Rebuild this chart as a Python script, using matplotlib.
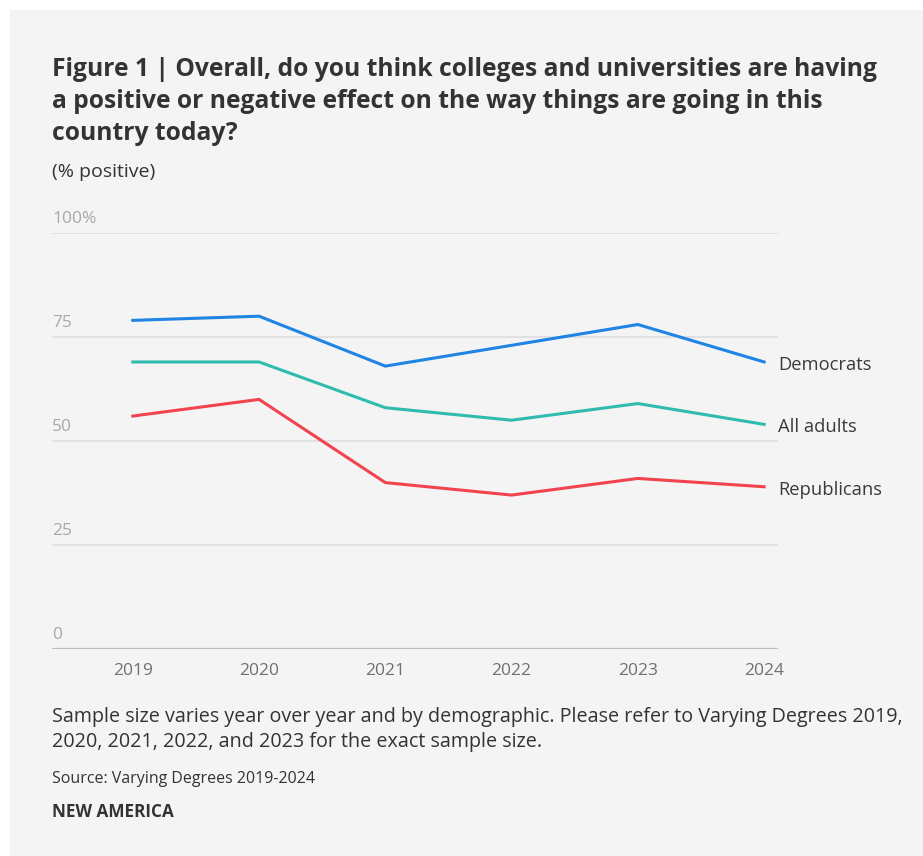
import matplotlib.pyplot as plt
from matplotlib.patches import Rectangle
from matplotlib.transforms import blended_transform_factory

plt.rcParams['font.family'] = ['Open Sans', 'DejaVu Sans']

years = [2019, 2020, 2021, 2022, 2023, 2024]
democrats = [79, 80, 68, 73, 78, 69]
all_adults = [69, 69, 58, 55, 59, 54]
republicans = [56, 60, 40, 37, 41, 39]
y_ticks = [0, 25, 50, 75, 100]
y_tick_labels = ['0', '25', '50', '75', '100%']

series = [
    ('Democrats', democrats, '#1f84e3'),
    ('All adults', all_adults, '#2fbcae'),
    ('Republicans', republicans, '#f2434f'),
]

W, H = 923, 856
fig = plt.figure(figsize=(W / 100, H / 100), dpi=100)
fig.patch.set_facecolor('white')
fig.patches.append(Rectangle((10 / W, 0), 1, 1 - 10 / H, transform=fig.transFigure,
                             facecolor='#f4f4f4', edgecolor='none', zorder=-1))

ax = fig.add_axes([52 / W, 1 - 649 / H, (778 - 52) / W, (649 - 233) / H])
ax.set_facecolor('none')
ax.set_xlim(2018.36, 2024.11)
ax.set_ylim(0, 100)
for s in ax.spines.values():
    s.set_visible(False)
ax.set_yticks([])
ax.set_xticks(years)
ax.set_xticklabels([str(y) for y in years], fontsize=12.5, color='#707070')
ax.tick_params(axis='x', length=0, pad=10)

# gridlines with labels sitting on top of them
trans = blended_transform_factory(ax.transAxes, ax.transData)
for v, lab in zip(y_ticks, y_tick_labels):
    ax.axhline(v, color='#bdbdbd' if v == 0 else '#dedede', lw=1.6 if v == 0 else 1.2, zorder=1)
    ax.annotate(lab, (0, v), xycoords=trans, xytext=(0, 4), textcoords='offset points',
                ha='left', va='bottom', fontsize=12.5, color='#a8a8a8')

for name, vals, col in series:
    ax.plot(years, vals, color=col, lw=2.2, zorder=3, solid_joinstyle='miter')
    ax.annotate(name, (years[-1], vals[-1]), xytext=(10, -2), textcoords='offset points',
                ha='left', va='center', fontsize=13.2, color='#3a3a3a', annotation_clip=False)

fig.text(52 / W, 1 - 57 / H,
         'Figure 1 | Overall, do you think colleges and universities are having\n'
         'a positive or negative effect on the way things are going in this\n'
         'country today?',
         ha='left', va='top', fontsize=17.7, fontweight='bold', color='#333333',
         linespacing=1.38)
fig.text(52 / W, 1 - 172 / H, '(% positive)', ha='left', va='center', fontsize=14, color='#333333')

fig.text(52 / W, 1 - 707 / H,
         'Sample size varies year over year and by demographic. Please refer to Varying Degrees 2019,\n'
         '2020, 2021, 2022, and 2023 for the exact sample size.',
         ha='left', va='top', fontsize=14.2, color='#333333', linespacing=1.3)
fig.text(52 / W, 1 - 779 / H, 'Source: Varying Degrees 2019-2024',
         ha='left', va='center', fontsize=11.5, color='#333333')
fig.text(52 / W, 1 - 812 / H, 'NEW AMERICA',
         ha='left', va='center', fontsize=12.3, fontweight='bold', color='#333333')

fig.savefig('out.png', dpi=100)
